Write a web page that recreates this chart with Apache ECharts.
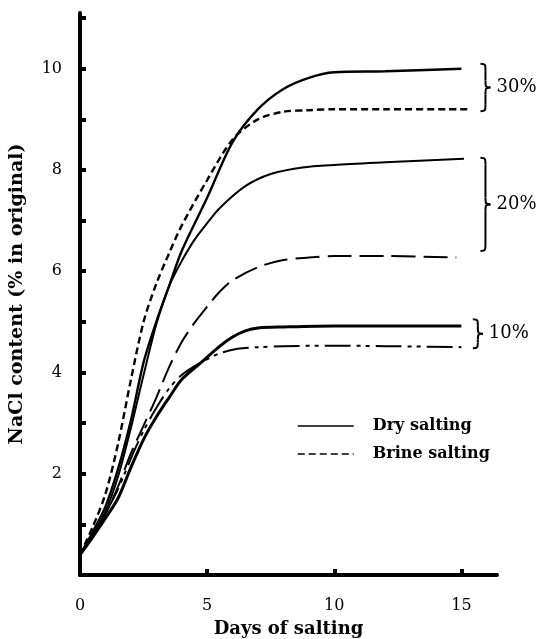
<!DOCTYPE html>
<html>
<head>
<meta charset="utf-8">
<script src="https://cdn.jsdelivr.net/npm/echarts@6/dist/echarts.min.js"></script>
<style>
  html, body { margin: 0; padding: 0; background: #fff; }
  #chart { width: 542px; height: 639px; }
</style>
</head>
<body>
<div id="chart"></div>
<script>
// values (NaCl % vs days of salting)
const dry30Days = [0, 0.5, 1, 1.5, 2, 2.5, 3, 3.5, 4, 5, 6, 7, 8, 9, 10, 12, 15];
const dry30Values = [0.4, 0.85, 1.35, 2.1, 3.05, 4.2, 5.0, 5.7, 6.4, 7.45, 8.55, 9.2, 9.6, 9.82, 9.93, 9.95, 10.0];

const brine30Days = [0, 0.5, 1, 1.5, 2, 2.5, 3, 3.5, 4, 5, 6, 7, 8, 9, 10, 12, 15.3];
const brine30Values = [0.4, 0.95, 1.6, 2.6, 3.85, 5.0, 5.75, 6.35, 6.9, 7.8, 8.6, 9.0, 9.15, 9.18, 9.2, 9.2, 9.2];

const dry20Days = [0, 0.5, 1, 1.5, 2, 2.5, 3, 3.5, 4, 4.5, 5, 5.5, 6.5, 7.5, 8.75, 10, 12, 15.1];
const dry20Values = [0.4, 0.8, 1.25, 1.95, 2.9, 3.95, 4.95, 5.7, 6.2, 6.62, 6.95, 7.25, 7.68, 7.92, 8.05, 8.1, 8.15, 8.22];

const brine20Days = [0, 0.5, 1, 1.5, 2, 2.5, 3, 3.5, 4, 4.5, 5, 5.5, 6, 7, 8, 9, 10, 12, 14.8];
const brine20Values = [0.4, 0.8, 1.2, 1.75, 2.4, 2.95, 3.5, 4.1, 4.6, 4.98, 5.3, 5.6, 5.82, 6.08, 6.22, 6.27, 6.3, 6.3, 6.27];

const dry10Days = [0, 0.5, 1, 1.5, 2, 2.5, 3, 3.5, 4, 4.77, 5.5, 6, 6.5, 7, 8, 10, 12, 15];
const dry10Values = [0.4, 0.75, 1.12, 1.52, 2.12, 2.68, 3.12, 3.5, 3.86, 4.2, 4.52, 4.7, 4.82, 4.88, 4.9, 4.92, 4.92, 4.92];

const brine10Days = [0, 0.5, 1, 1.5, 2, 2.5, 3, 3.5, 4, 4.77, 5.5, 6.2, 7, 8, 10, 12, 15];
const brine10Values = [0.4, 0.8, 1.22, 1.7, 2.3, 2.85, 3.3, 3.68, 3.95, 4.2, 4.38, 4.47, 4.5, 4.52, 4.53, 4.52, 4.5];

// axis ticks / labels
const xTickValues = [5, 10, 15];
const xLabelValues = [0, 5, 10, 15];
const yTickValues = [1, 2, 3, 4, 5, 6, 7, 8, 9, 10, 11];
const yLabelValues = [2, 4, 6, 8, 10];

// concentration groups marked with braces on the right
const groupLabels = ['30%', '20%', '10%'];
const groupTop = [10.1, 8.24, 5.05];
const groupBottom = [9.16, 6.4, 4.48];
const groupX = [15.75, 15.75, 15.45];

const FONT = 'DejaVu Serif';

function pairs(days, values) {
  return days.map((d, i) => [d, values[i]]);
}

function curve(name, days, values, width, dash) {
  return {
    name: name,
    type: 'line',
    data: pairs(days, values),
    smooth: 0.3,
    symbol: 'none',
    lineStyle: { color: '#000', width: width, type: dash },
    itemStyle: { color: '#000' },
    z: 3
  };
}

const chart = echarts.init(document.getElementById('chart'));

const option = {
  animation: false,
  backgroundColor: '#fff',
  grid: { left: 80, right: 45, top: 13, bottom: 64, outerBoundsMode: 'none' },
  legend: {
    orient: 'vertical',
    left: 292,
    top: 413,
    itemWidth: 56,
    itemHeight: 14,
    itemGap: 12,
    selectedMode: false,
    lineStyle: { width: 1.5 },
    itemStyle: { opacity: 0 },
    textStyle: { fontFamily: FONT, fontWeight: 'bold', fontSize: 16, color: '#000', padding: [0, 0, 0, 14] },
    data: ['Dry salting', 'Brine salting']
  },
  xAxis: {
    type: 'value',
    min: 0,
    max: 16.4,
    interval: 5,
    name: 'Days of salting',
    nameLocation: 'middle',
    nameGap: 45,
    nameTextStyle: { fontFamily: FONT, fontWeight: 'bold', fontSize: 18, color: '#000' },
    splitLine: { show: false },
    axisLine: { lineStyle: { color: '#000', width: 4 } },
    axisTick: { inside: true, length: 6, lineStyle: { color: '#000', width: 4 }, customValues: xTickValues },
    axisLabel: { margin: 23, fontFamily: FONT, fontSize: 16, color: '#000', customValues: xLabelValues }
  },
  yAxis: {
    type: 'value',
    min: 0,
    max: 11.1,
    interval: 1,
    name: 'NaCl content (% in original)',
    nameLocation: 'middle',
    nameGap: 53,
    nameRotate: 90,
    nameTextStyle: { fontFamily: FONT, fontWeight: 'bold', fontSize: 19, color: '#000' },
    splitLine: { show: false },
    axisLine: { lineStyle: { color: '#000', width: 4 } },
    axisTick: { inside: true, length: 6, lineStyle: { color: '#000', width: 4 }, customValues: yTickValues },
    axisLabel: { margin: 18, fontFamily: FONT, fontSize: 16, color: '#000', customValues: yLabelValues }
  },
  series: [
    curve('Dry salting', dry30Days, dry30Values, 2.4, 'solid'),
    curve('Brine salting', brine30Days, brine30Values, 2.4, [7, 4]),
    curve('Dry salting', dry20Days, dry20Values, 2, 'solid'),
    curve('Brine salting', brine20Days, brine20Values, 2, [24, 8]),
    curve('Dry salting', dry10Days, dry10Values, 3, 'solid'),
    curve('Brine salting', brine10Days, brine10Values, 2, [26, 6, 4, 5, 4, 6])
  ]
};

chart.setOption(option);

// braces + group labels, placed through the axis scales
const braceStyle = { fill: 'none', stroke: '#000', lineWidth: 2 };
function bez(x1, y1, cx1, cy1, cx2, cy2, x2, y2) {
  return {
    type: 'bezierCurve',
    shape: { x1: x1, y1: y1, x2: x2, y2: y2, cpx1: cx1, cpy1: cy1, cpx2: cx2, cpy2: cy2 },
    style: braceStyle
  };
}
function seg(x1, y1, x2, y2) {
  return { type: 'line', shape: { x1: x1, y1: y1, x2: x2, y2: y2 }, style: braceStyle };
}

const graphics = [];
groupLabels.forEach((label, i) => {
  const top = chart.convertToPixel({ gridIndex: 0 }, [groupX[i], groupTop[i]]);
  const bot = chart.convertToPixel({ gridIndex: 0 }, [groupX[i], groupBottom[i]]);
  const x0 = top[0], y1 = top[1], y2 = bot[1];
  const ym = (y1 + y2) / 2;
  const w = 5;
  const r = Math.min(7, (y2 - y1) / 5);
  graphics.push(bez(x0, y1, x0 + w, y1, x0 + w, y1 + 1, x0 + w, y1 + r));
  graphics.push(seg(x0 + w, y1 + r, x0 + w, ym - r));
  graphics.push(bez(x0 + w, ym - r, x0 + w, ym - 1, x0 + w, ym, x0 + 2 * w, ym));
  graphics.push(bez(x0 + 2 * w, ym, x0 + w, ym, x0 + w, ym + 1, x0 + w, ym + r));
  graphics.push(seg(x0 + w, ym + r, x0 + w, y2 - r));
  graphics.push(bez(x0 + w, y2 - r, x0 + w, y2 - 1, x0 + w, y2, x0, y2));
  graphics.push({
    type: 'text',
    x: x0 + 2 * w + 6,
    y: ym,
    style: {
      text: label,
      font: '18px "' + FONT + '"',
      fill: '#000',
      verticalAlign: 'middle'
    }
  });
});
chart.setOption({ graphic: graphics });
</script>
</body>
</html>
